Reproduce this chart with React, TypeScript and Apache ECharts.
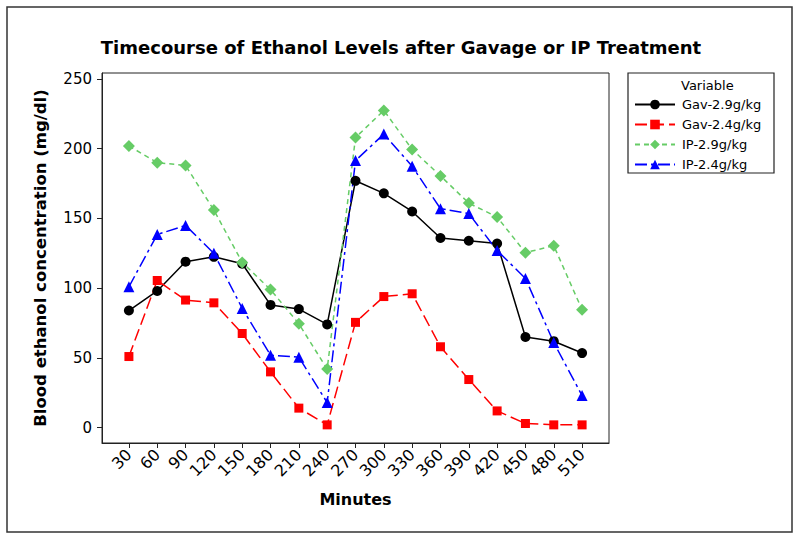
import React, { useEffect, useRef } from "react";
import * as echarts from "echarts";

const minutes = [30, 60, 90, 120, 150, 180, 210, 240, 270, 300, 330, 360, 390, 420, 450, 480, 510];
const gav29 = [84, 98, 119, 122.5, 117.5, 88, 85, 74, 177, 168, 155, 136, 134, 132, 65, 62, 53.5];
const gav24 = [51, 105.5, 91.5, 89.5, 67.5, 40, 14, 2, 75.5, 94, 96, 58, 34.5, 12, 3, 2, 2];
const ip29 = [202, 190, 188, 156, 118.5, 99, 74.5, 42, 208, 227.5, 199.5, 180.5, 161, 151, 125.5, 130.5, 84.5];
const ip24 = [101, 138.5, 145, 125, 85.5, 52, 50.5, 18, 191.5, 210.5, 187.5, 157, 153.5, 127, 107, 61, 23];
const yTicks = [0, 50, 100, 150, 200, 250];
const seriesNames = ["Gav-2.9g/kg", "Gav-2.4g/kg", "IP-2.9g/kg", "IP-2.4g/kg"];

const FONT = "DejaVu Sans";

export default function App() {
  const ref = useRef<HTMLDivElement>(null);
  useEffect(() => {
    if (!ref.current) return;
    const chart = echarts.init(ref.current, undefined, { renderer: "svg" });
    const pair = (arr: number[]) => minutes.map((m, i) => [m, arr[i]]);
    const mk = (name: string, data: number[], color: string, symbol: string, size: number, dash: any) => ({
      name,
      type: "line",
      data: pair(data),
      symbol,
      symbolSize: size,
      showSymbol: true,
      itemStyle: { color },
      lineStyle: { color, width: 1.5, type: dash },
      emphasis: { disabled: true },
    });
    chart.setOption({
      animation: false,
      backgroundColor: "#fff",
      textStyle: { fontFamily: FONT },
      title: {
        text: "Timecourse of Ethanol Levels after Gavage or IP Treatment",
        left: 396,
        top: 33,
        textAlign: "center",
        textStyle: { fontFamily: FONT, fontWeight: "bold", fontSize: 18, color: "#000" },
      },
      grid: {
        left: 102,
        right: 191,
        top: 73,
        bottom: 97,
        show: true,
        borderColor: "#222",
        borderWidth: 1,
      },
      legend: {
        orient: "vertical",
        left: 634,
        top: 98,
        padding: 0,
        itemWidth: 40,
        itemHeight: 12,
        itemGap: 7,
        data: seriesNames,
        textStyle: { fontFamily: FONT, fontSize: 13, color: "#000", padding: [0, 0, 0, 2] },
        selectedMode: false,
      },
      graphic: [
        {
          type: "rect",
          shape: { x: 7, y: 7, width: 785, height: 525 },
          style: { fill: "none", stroke: "#333", lineWidth: 1.5 },
        },
        {
          type: "rect",
          shape: { x: 628, y: 73, width: 146, height: 100 },
          style: { fill: "none", stroke: "#222", lineWidth: 1.2 },
        },
        {
          type: "text",
          x: 681,
          y: 85,
          style: { text: "Variable", font: `13px "${FONT}"`, fill: "#000", textVerticalAlign: "middle" },
        },
      ],
      xAxis: {
        type: "value",
        min: 1.5,
        max: 538.5,
        name: "Minutes",
        nameLocation: "middle",
        nameGap: 48,
        nameTextStyle: { fontFamily: FONT, fontWeight: "bold", fontSize: 16, color: "#000" },
        axisLine: { show: true, onZero: false, lineStyle: { color: "#222", width: 1 } },
        axisTick: { show: true, length: 5, customValues: minutes, lineStyle: { color: "#222" } },
        axisLabel: {
          customValues: minutes,
          rotate: 45,
          fontFamily: FONT,
          fontSize: 16,
          color: "#000",
          margin: 9,
        },
        splitLine: { show: false },
      },
      yAxis: {
        type: "value",
        min: -11,
        max: 254.3,
        name: "Blood ethanol concentration (mg/dl)",
        nameLocation: "middle",
        nameGap: 53,
        nameTextStyle: { fontFamily: FONT, fontWeight: "bold", fontSize: 16.5, color: "#000" },
        axisLine: { show: true, onZero: false, lineStyle: { color: "#222", width: 1 } },
        axisTick: { show: true, length: 5, customValues: yTicks, lineStyle: { color: "#222" } },
        axisLabel: { customValues: yTicks, fontFamily: FONT, fontSize: 15, color: "#000", margin: 10 },
        splitLine: { show: false },
      },
      series: [
        mk(seriesNames[0], gav29, "#000000", "circle", 10, "solid"),
        mk(seriesNames[1], gav24, "#ff0000", "rect", 9, [12, 5]),
        mk(seriesNames[2], ip29, "#66cc66", "diamond", 12, [5, 4]),
        mk(seriesNames[3], ip24, "#0000ff", "triangle", 11, [12, 4, 3, 4]),
      ],
    });
    return () => chart.dispose();
  }, []);
  return (
    <div
      ref={ref}
      style={{ position: "absolute", left: 0, top: 0, width: 800, height: 540 }}
    />
  );
}
